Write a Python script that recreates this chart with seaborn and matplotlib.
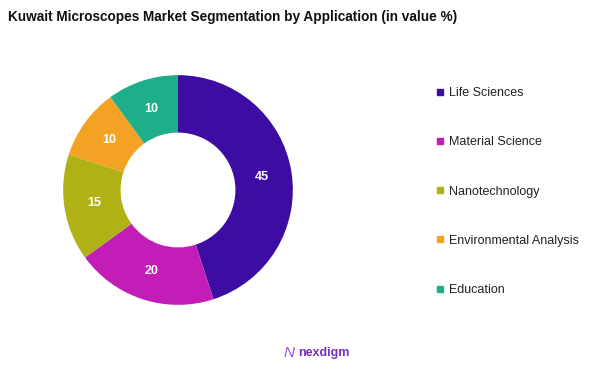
import matplotlib
matplotlib.use("Agg")
import matplotlib.pyplot as plt
import seaborn as sns
import numpy as np
from matplotlib.lines import Line2D

sns.set_theme(style="white")
plt.rcParams['font.family'] = ['Liberation Sans', 'DejaVu Sans']

categories = ["Life Sciences", "Material Science", "Nanotechnology", "Environmental Analysis", "Education"]
values = [45, 20, 15, 10, 10]
colors = ["#3d0da3", "#c21db6", "#b0b114", "#f4a223", "#1fae8a"]

fig = plt.figure(figsize=(6.02, 3.69), dpi=100)
fig.patch.set_facecolor("white")
ax = fig.add_axes([62/602, 1 - 306/369, 232/602, 232/369])

wedges, _ = ax.pie(values, colors=colors, startangle=90, counterclock=False,
                   radius=1.0, wedgeprops=dict(width=0.5, edgecolor="none"))
for w, v in zip(wedges, values):
    ang = np.deg2rad((w.theta1 + w.theta2) / 2)
    r = 0.74
    ax.text(r * np.cos(ang), r * np.sin(ang), str(v), ha="center", va="center",
            color="white", fontsize=9, fontweight="bold")
ax.set_aspect("equal")
ax.set_xlim(-1.01, 1.01)
ax.set_ylim(-1.01, 1.01)
ax.axis("off")

fig.text(8/602, 1 - 17/369, "Kuwait Microscopes Market Segmentation by Application (in value %)",
         fontsize=9.8, fontweight="bold", ha="left", va="center", color="#111111")

handles = [Line2D([0], [0], marker="s", linestyle="none", markersize=5,
                  markerfacecolor=c, markeredgecolor=c) for c in colors]
leg = fig.legend(handles, categories, loc="upper left", bbox_to_anchor=(435/602, 1 - 87/369),
                 frameon=False, fontsize=9, labelspacing=2.98, handletextpad=0.3,
                 handlelength=0.8, borderaxespad=0, borderpad=0)
for t in leg.get_texts():
    t.set_color("#222222")

fig.text(324/602, 1 - 353/369, "nexdigm", fontsize=9, fontweight="bold",
         color="#7b2fbf", ha="center", va="center")
fig.text(289/602, 1 - 353/369, "N", fontsize=11, color="#9b59d6",
         ha="center", va="center", fontstyle="italic")

fig.savefig("out.png", dpi=100)
